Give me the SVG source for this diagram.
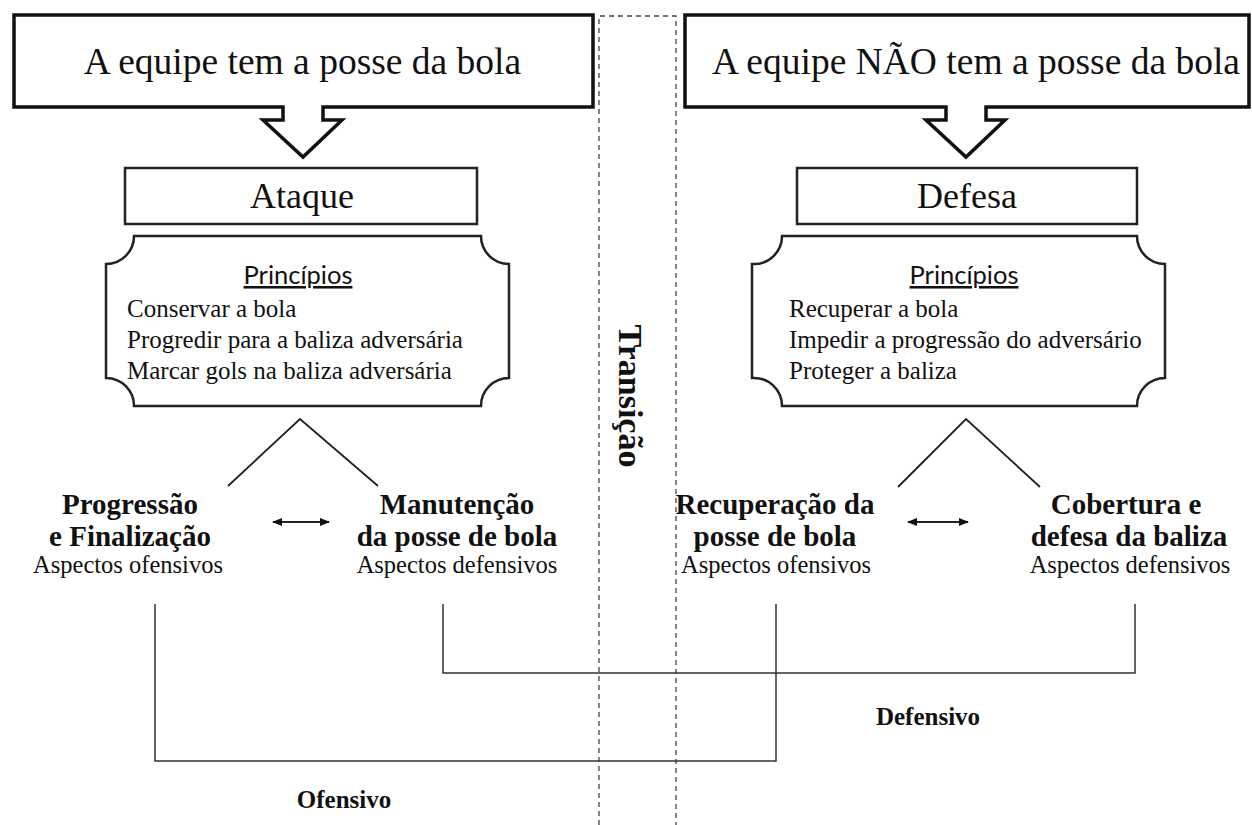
<svg xmlns="http://www.w3.org/2000/svg" width="1252" height="825" viewBox="0 0 1252 825">
<style>
.serif{font-family:"Liberation Serif","Times New Roman",serif;fill:#111;font-weight:normal}
.hdr{font-size:37.5px;text-anchor:middle}
.phase{font-size:36px;text-anchor:middle}
.item{font-size:25px}
.sub{font-size:24.5px;text-anchor:middle}
.bold{font-weight:bold;font-size:29px;text-anchor:middle}
.lbl{font-weight:bold;font-size:25px;text-anchor:middle}
.pr{font-family:Lato,"Liberation Sans",sans-serif;font-size:25.5px;text-anchor:middle;fill:#111;text-decoration:underline}
.thick{fill:#fff;stroke:#111;stroke-width:3.5;stroke-linejoin:miter}
.box{fill:#fff;stroke:#222;stroke-width:2.5}
.line{fill:none;stroke:#222;stroke-width:1.8}
.conn{fill:none;stroke:#333;stroke-width:1.5}
.dash{fill:none;stroke:#444;stroke-width:1.3;stroke-dasharray:5,4}
</style>
<defs>
<marker id="ah" viewBox="0 0 10 10" refX="9" refY="5" markerWidth="10" markerHeight="10" markerUnits="userSpaceOnUse" orient="auto-start-reverse">
<path d="M0,1 L10,5 L0,9 Z" fill="#111"/>
</marker>
</defs>

<g id="transicao">
<path class="dash" d="M599,825 V16 H676 V825"/>
<text class="serif" style="font-weight:bold" font-size="34" text-anchor="middle" transform="translate(619,396) rotate(90)">Transição</text>
</g>

<g id="posse">
<path class="thick" d="M14,15 H593 V107 H323 V120 H342 L303,157 L263,120 H283 V107 H14 Z"/>
<text class="serif hdr" x="302.5" y="74">A equipe tem a posse da bola</text>
</g>
<g id="nao-posse">
<path class="thick" d="M685,15 H1249 V107 H986 V120 H1005 L966,157 L926,120 H946 V107 H685 Z"/>
<text class="serif hdr" x="976" y="74">A equipe NÃO tem a posse da bola</text>
</g>

<g id="ataque">
<rect class="box" x="125" y="168" width="352" height="56"/>
<text class="serif phase" x="302" y="208">Ataque</text>
</g>
<g id="defesa">
<rect class="box" x="797" y="168" width="340" height="56"/>
<text class="serif phase" x="967" y="208">Defesa</text>
</g>

<g id="principios-ataque">
<path class="box" d="M134,236 H481 A28 28 0 0 0 509,264 V378 A28 28 0 0 0 481,406 H134 A28 28 0 0 0 106,378 V264 A28 28 0 0 0 134,236 Z"/>
<text class="pr" x="298" y="284">Princípios</text>
<text class="serif item" x="127" y="317">Conservar a bola</text>
<text class="serif item" x="127" y="348">Progredir para a baliza adversária</text>
<text class="serif item" x="127" y="379">Marcar gols na baliza adversária</text>
</g>
<g id="principios-defesa">
<path class="box" d="M782,236 H1137 A28 28 0 0 0 1165,264 V378 A28 28 0 0 0 1137,406 H782 A28 28 0 0 0 752,378 V264 A28 28 0 0 0 782,236 Z"/>
<text class="pr" x="964" y="284">Princípios</text>
<text class="serif item" x="789" y="317">Recuperar a bola</text>
<text class="serif item" x="789" y="348">Impedir  a progressão do adversário</text>
<text class="serif item" x="789" y="379">Proteger a baliza</text>
</g>

<g id="progressao">
<text class="serif bold" x="130" y="514">Progressão</text>
<text class="serif bold" x="130" y="546">e Finalização</text>
<text class="serif sub" x="128" y="573">Aspectos ofensivos</text>
</g>
<g id="manutencao">
<text class="serif bold" x="457" y="514">Manutenção</text>
<text class="serif bold" x="457" y="546">da posse de bola</text>
<text class="serif sub" x="457" y="573">Aspectos defensivos</text>
</g>
<g id="recuperacao">
<text class="serif bold" x="775" y="514">Recuperação da</text>
<text class="serif bold" x="775" y="546">posse de bola</text>
<text class="serif sub" x="776" y="573">Aspectos ofensivos</text>
</g>
<g id="cobertura">
<text class="serif bold" x="1126" y="514">Cobertura e</text>
<text class="serif bold" x="1129" y="546">defesa da baliza</text>
<text class="serif sub" x="1130" y="573">Aspectos defensivos</text>
</g>
<g id="ofensivo">
<text class="serif lbl" x="344" y="808">Ofensivo</text>
</g>
<g id="defensivo">
<text class="serif lbl" x="928" y="725">Defensivo</text>
</g>

<g id="connectors">
<path class="line" d="M228,486 L300,419 L378,486"/>
<path class="line" d="M898,487 L966,419 L1040,487"/>
<line class="line" x1="273" y1="522" x2="329" y2="522" marker-start="url(#ah)" marker-end="url(#ah)"/>
<line class="line" x1="908" y1="522" x2="968" y2="522" marker-start="url(#ah)" marker-end="url(#ah)"/>
<path class="conn" d="M155,604 V761 H776 V604"/>
<path class="conn" d="M443,604 V673 H1135 V604"/>
</g>
</svg>
